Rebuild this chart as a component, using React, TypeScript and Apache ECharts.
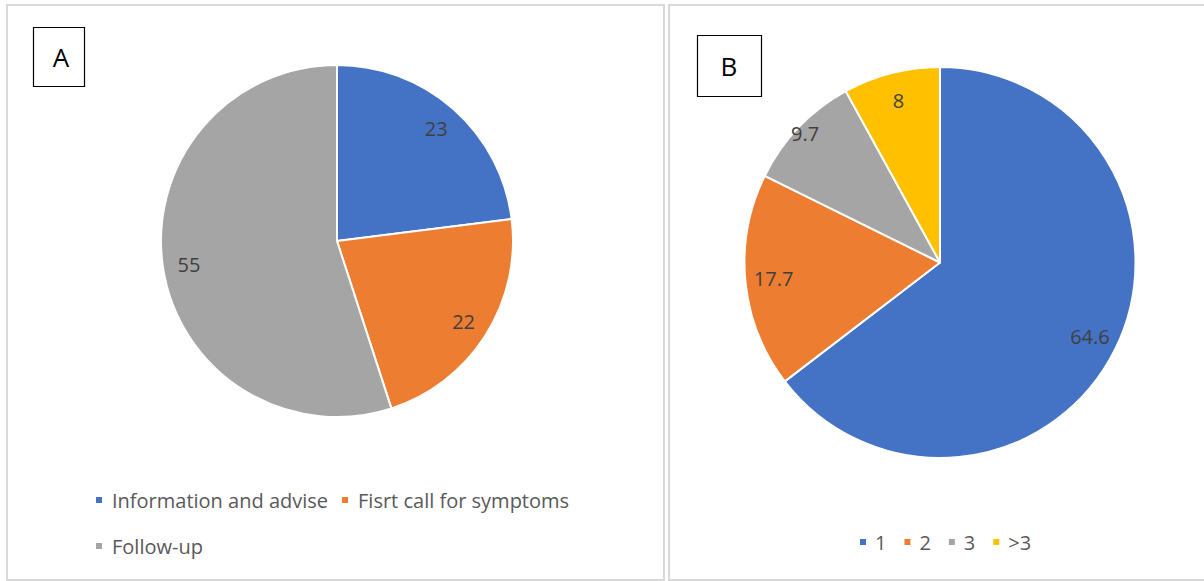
import React, { useEffect, useRef } from "react";
import * as echarts from "echarts";

// Panel A
const categoriesA = ["Information and advise", "Fisrt call for symptoms", "Follow-up"];
const valuesA = [23, 22, 55];
// Panel B
const categoriesB = ["1", "2", "3", ">3"];
const valuesB = [64.6, 17.7, 9.7, 8];

const colorsA = ["#4472C4", "#ED7D31", "#A5A5A5"];
const colorsB = ["#4472C4", "#ED7D31", "#A5A5A5", "#FFC000"];

const FONT = "'Open Sans', 'Noto Sans', sans-serif";

export default function App() {
  const ref = useRef<HTMLDivElement>(null);

  useEffect(() => {
    if (!ref.current) return;
    const chart = echarts.init(ref.current, undefined, { renderer: "svg" });

    const rA = 176;
    const cA = [337, 241];
    const rB = 195.5;
    const cB = [940, 262.5];

    const labelStyle = {
      show: true,
      position: "inside",
      color: "#404040",
      fontSize: 20,
      fontFamily: FONT,
      formatter: "{c}",
    };

    const mainSeries = (name: string, center: number[], r: number, cats: string[], vals: number[], colors: string[]) => ({
      type: "pie",
      name,
      center,
      radius: [0, r],
      startAngle: 90,
      clockwise: true,
      silent: true,
      label: { show: false },
      labelLine: { show: false },
      itemStyle: { borderColor: "#ffffff", borderWidth: 2 },
      data: cats.map((c, i) => ({ name: c, value: vals[i], itemStyle: { color: colors[i] } })),
    });

    // transparent ring used only to place labels at a given fraction of radius
    const labelRing = (
      name: string,
      center: number[],
      r: number,
      frac: number,
      cats: string[],
      vals: number[],
      showIdx: (i: number) => boolean
    ) => {
      const r0 = r * (2 * frac - 1);
      return {
        type: "pie",
        name,
        center,
        radius: [r0, r],
        startAngle: 90,
        clockwise: true,
        silent: true,
        label: labelStyle,
        labelLine: { show: false },
        itemStyle: { color: "rgba(0,0,0,0)", borderWidth: 0 },
        emphasis: { disabled: true },
        data: cats.map((c, i) => ({
          name: c,
          value: vals[i],
          label: { show: showIdx(i) },
        })),
      };
    };

    const legendText = { color: "#595959", fontSize: 20, fontFamily: FONT };

    chart.setOption({
      animation: false,
      backgroundColor: "#ffffff",
      legend: [
        {
          left: 94,
          top: 490,
          orient: "horizontal",
          icon: "rect",
          itemWidth: 8,
          itemHeight: 8,
          itemGap: 12,
          padding: 0,
          selectedMode: false,
          textStyle: { ...legendText, padding: [0, 0, 0, 4] },
          data: [0, 1].map((i) => ({ name: categoriesA[i], itemStyle: { color: colorsA[i] } })),
        },
        {
          left: 94,
          top: 536,
          orient: "horizontal",
          icon: "rect",
          itemWidth: 8,
          itemHeight: 8,
          itemGap: 12,
          padding: 0,
          selectedMode: false,
          textStyle: { ...legendText, padding: [0, 0, 0, 4] },
          data: [2].map((i) => ({ name: categoriesA[i], itemStyle: { color: colorsA[i] } })),
        },
        {
          left: 858,
          top: 532,
          orient: "horizontal",
          icon: "rect",
          itemWidth: 8,
          itemHeight: 8,
          itemGap: 16,
          padding: 0,
          selectedMode: false,
          textStyle: { ...legendText, padding: [0, 0, 0, 3] },
          data: categoriesB.map((c, i) => ({ name: c, itemStyle: { color: colorsB[i] } })),
        },
      ],
      series: [
        mainSeries("A", cA, rA, categoriesA, valuesA, colorsA),
        mainSeries("B", cB, rB, categoriesB, valuesB, colorsB),
        labelRing("A-labels", cA, rA, 0.835, categoriesA, valuesA, () => true),
        labelRing("B-labels", cB, rB, 0.84, categoriesB, valuesB, (i) => i !== 2),
        labelRing("B-labels-outer", cB, rB, 0.94, categoriesB, valuesB, (i) => i === 2),
      ],
      graphic: [
        {
          type: "rect",
          silent: true,
          shape: { x: 7, y: 5, width: 657, height: 575 },
          style: { fill: "none", stroke: "#d9d9d9", lineWidth: 2 },
        },
        {
          type: "rect",
          silent: true,
          shape: { x: 669, y: 5, width: 560, height: 575 },
          style: { fill: "none", stroke: "#d9d9d9", lineWidth: 2 },
        },
        {
          type: "rect",
          silent: true,
          shape: { x: 33.5, y: 27.5, width: 51, height: 59 },
          style: { fill: "#ffffff", stroke: "#000000", lineWidth: 1.2 },
        },
        {
          type: "text",
          silent: true,
          x: 61,
          y: 57,
          style: {
            text: "A",
            fill: "#000000",
            fontSize: 26,
            fontFamily: FONT,
            textAlign: "center",
            textVerticalAlign: "middle",
          },
        },
        {
          type: "rect",
          silent: true,
          shape: { x: 697.5, y: 35.5, width: 64, height: 61 },
          style: { fill: "#ffffff", stroke: "#000000", lineWidth: 1.2 },
        },
        {
          type: "text",
          silent: true,
          x: 729,
          y: 66,
          style: {
            text: "B",
            fill: "#000000",
            fontSize: 26,
            fontFamily: FONT,
            textAlign: "center",
            textVerticalAlign: "middle",
          },
        },
      ],
    });

    return () => chart.dispose();
  }, []);

  return (
    <div
      ref={ref}
      style={{ position: "fixed", left: 0, top: 0, width: 1204, height: 581, background: "#fff" }}
    />
  );
}
